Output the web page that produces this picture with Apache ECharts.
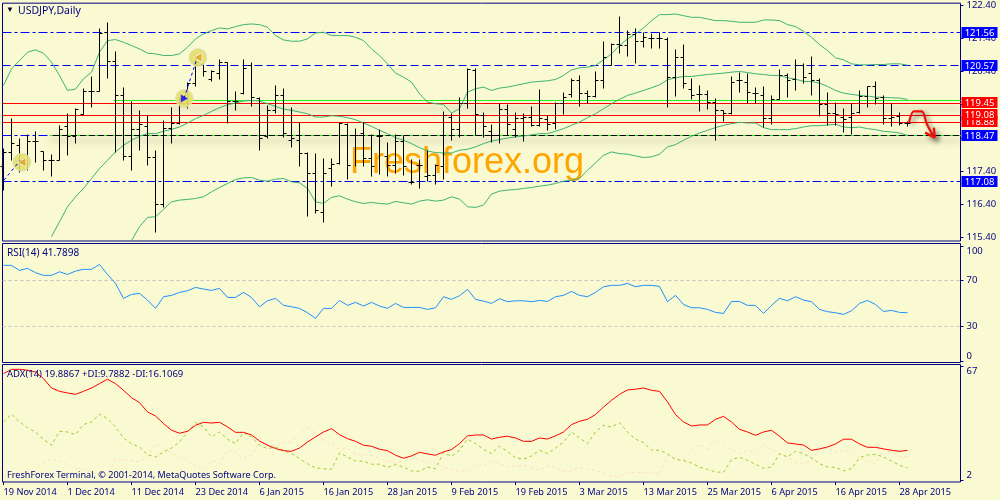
<!DOCTYPE html>
<html>
<head>
<meta charset="utf-8">
<style>html,body{margin:0;padding:0;background:#fafad2}#c{width:1000px;height:500px}</style>
<script src="https://cdn.jsdelivr.net/npm/echarts@6/dist/echarts.min.js"></script>
</head>
<body>
<div id="c"></div>
<script>
const opens=[117.53,117.97,118.17,117.63,118.28,117.98,117.73,117.71,118.73,118.43,119.11,119.81,119.81,121.58,120.70,119.68,117.83,118.66,118.73,117.81,116.41,118.68,118.85,119.58,120.03,120.61,120.15,120.35,120.67,119.50,119.73,120.58,119.58,118.45,119.23,119.68,118.31,118.31,117.93,117.33,116.15,117.48,117.63,118.81,118.48,118.53,117.78,118.45,117.83,117.56,118.28,117.05,117.58,117.23,117.28,117.53,119.03,118.65,119.43,120.43,119.08,118.58,118.48,119.25,118.65,118.98,119.03,118.78,118.95,118.83,119.43,119.71,120.13,119.75,119.66,120.13,120.58,121.20,121.18,121.50,121.30,121.40,121.38,121.35,120.23,120.81,119.85,119.70,119.71,119.48,119.23,119.13,120.13,120.08,119.73,119.68,118.98,119.55,120.28,120.15,120.58,120.33,120.13,119.41,119.13,119.03,119.01,119.18,119.66,119.95,119.61,118.98,119.05,118.85];
const highs=[118.08,119.00,118.38,118.50,118.60,118.00,117.90,118.77,119.13,119.28,119.88,120.24,121.68,121.86,121.00,119.91,119.51,119.23,119.08,118.03,118.93,119.31,119.63,120.08,120.83,120.68,120.43,120.75,120.68,119.80,120.75,120.67,119.63,119.38,119.98,119.89,119.31,118.87,117.96,117.93,117.78,117.78,118.86,118.83,118.68,118.86,118.51,118.65,118.26,118.51,118.48,117.75,117.75,118.01,117.61,119.21,119.13,119.61,120.48,120.48,119.18,118.80,119.43,119.40,119.18,119.13,119.35,119.85,119.08,119.48,119.78,120.18,120.28,119.83,120.41,121.30,121.23,122.05,121.63,121.68,121.56,121.53,121.56,121.41,121.05,121.21,120.20,119.98,119.83,119.58,119.23,120.25,120.36,120.35,119.91,119.95,119.68,120.45,120.35,120.75,120.65,120.85,120.18,119.77,119.46,119.30,119.43,119.83,119.96,120.10,119.67,119.43,119.18,118.91];
const lows=[116.81,117.73,117.36,117.41,117.67,117.43,117.23,117.71,117.86,118.22,119.11,119.33,119.81,120.19,117.95,117.71,117.43,118.03,117.56,115.56,116.30,118.23,118.81,119.28,119.95,120.25,120.11,120.17,118.85,119.23,119.71,119.36,118.03,118.37,119.15,118.41,118.11,117.53,116.05,116.13,115.85,116.93,117.61,117.16,117.53,117.53,117.25,117.31,117.23,117.33,117.28,117.01,116.87,117.08,117.01,117.16,118.31,118.41,119.28,118.48,118.41,118.26,118.23,118.48,118.41,118.28,118.73,118.75,118.61,118.65,119.10,119.63,119.35,119.45,119.61,119.90,120.58,120.93,120.85,120.65,121.13,121.08,121.10,119.31,119.65,119.90,119.57,119.21,119.25,118.31,118.91,119.11,119.78,119.43,119.45,118.71,118.81,119.55,119.63,119.83,120.05,119.68,119.06,118.78,118.78,118.55,118.51,119.15,119.33,119.41,118.81,118.75,118.78,118.73];
const closes=[117.97,118.23,117.66,118.28,118.28,117.73,117.73,118.65,118.43,119.25,119.81,119.81,121.53,120.70,119.68,117.83,118.66,118.80,117.81,116.41,118.68,118.85,119.58,120.03,120.68,120.41,120.39,120.67,119.50,119.50,120.50,119.63,118.38,119.23,119.68,118.53,118.38,117.93,117.33,116.21,117.33,117.61,118.83,117.56,118.48,117.78,117.53,118.45,117.56,118.28,117.53,117.05,117.58,117.28,117.56,119.08,118.65,119.43,120.45,119.10,118.75,118.48,119.25,118.81,118.98,119.03,118.78,118.98,118.81,119.43,119.61,120.13,119.75,119.66,120.13,120.83,121.20,121.18,121.50,121.30,121.43,121.40,121.38,120.23,120.81,120.03,119.68,119.70,119.48,119.23,119.13,120.08,120.13,119.76,119.73,118.98,119.55,120.28,120.13,120.58,120.23,120.13,119.41,119.13,119.11,118.95,119.15,119.66,119.95,119.58,118.98,119.03,118.85,118.85];

const bbUpper=[119.98,120.48,120.73,120.98,121.05,120.95,120.68,120.28,119.83,119.87,120.18,120.38,120.98,121.33,121.36,121.28,121.18,121.08,120.95,120.93,120.88,120.88,120.93,121.13,121.38,121.53,121.63,121.71,121.68,121.75,121.81,121.83,121.81,121.73,121.48,121.35,121.31,121.31,121.38,121.56,121.58,121.48,121.48,121.48,121.43,121.33,121.08,120.88,120.63,120.35,120.23,120.08,119.73,119.48,119.43,119.41,119.15,119.28,119.78,119.88,119.93,119.83,119.90,119.93,119.98,120.03,120.08,120.10,120.12,120.16,120.28,120.45,120.51,120.53,120.58,120.75,120.93,121.18,121.38,121.53,121.71,121.93,122.11,122.11,122.13,122.08,122.03,122.03,121.98,121.93,121.93,121.91,121.88,121.88,121.88,121.95,121.95,121.93,121.81,121.75,121.61,121.43,121.21,121.03,120.81,120.75,120.63,120.60,120.60,120.61,120.61,120.63,120.63,120.59];
const bbMiddle=[null,null,null,null,null,null,115.43,115.88,116.33,116.63,116.88,117.18,117.48,117.73,117.98,118.18,118.33,118.45,118.53,118.53,118.60,118.66,118.73,118.85,118.98,119.08,119.20,119.31,119.40,119.45,119.51,119.53,119.51,119.43,119.35,119.27,119.23,119.18,119.13,119.03,119.03,119.07,119.05,119.01,118.95,118.85,118.75,118.63,118.53,118.41,118.33,118.23,118.11,118.01,117.96,117.95,117.95,118.03,118.06,118.13,118.23,118.31,118.35,118.40,118.43,118.46,118.49,118.53,118.53,118.60,118.68,118.78,118.88,119.01,119.13,119.28,119.43,119.56,119.68,119.75,119.83,119.91,120.00,120.15,120.21,120.25,120.25,120.28,120.31,120.33,120.35,120.38,120.40,120.37,120.33,120.31,120.28,120.28,120.21,120.17,120.10,120.10,120.05,119.95,119.83,119.75,119.71,119.68,119.66,119.63,119.62,119.61,119.60,119.56];
const bbLower=[null,null,null,null,null,null,null,null,null,null,null,null,null,null,null,null,115.31,115.73,116.01,116.03,116.25,116.48,116.53,116.55,116.58,116.63,116.78,116.91,117.03,117.15,117.20,117.21,117.13,117.10,117.16,117.18,117.08,117.05,116.88,116.48,116.43,116.61,116.66,116.56,116.48,116.43,116.46,116.43,116.41,116.49,116.45,116.41,116.50,116.54,116.50,116.53,116.63,116.56,116.33,116.31,116.38,116.71,116.80,116.83,116.85,116.88,116.91,116.95,116.98,117.03,117.10,117.13,117.18,117.43,117.65,117.88,117.98,117.93,117.91,117.86,117.81,117.83,117.91,118.13,118.20,118.33,118.45,118.55,118.63,118.71,118.78,118.83,118.87,118.85,118.85,118.71,118.65,118.65,118.65,118.68,118.73,118.77,118.77,118.79,118.81,118.73,118.71,118.73,118.68,118.65,118.60,118.58,118.55,118.48];

const rsiValues=[83.0,83.0,78.6,80.4,76.6,74.3,74.3,77.4,75.1,78.0,79.5,79.5,83.8,75.1,67.3,54.3,57.7,58.6,52.8,45.6,55.7,56.9,59.5,60.9,63.8,62.4,61.2,63.0,55.1,55.1,59.5,55.1,47.0,52.2,54.3,48.2,47.0,45.6,41.8,36.9,45.6,45.6,52.5,48.2,50.8,47.6,50.8,47.6,45.6,49.9,46.4,46.4,46.4,44.7,46.1,55.7,53.4,56.6,62.1,53.4,51.9,49.9,54.0,51.4,52.2,52.2,51.4,52.5,51.6,55.7,56.9,60.3,56.9,55.7,59.5,64.4,65.6,65.6,67.3,64.4,65.6,65.6,64.7,51.4,56.9,49.0,46.1,46.1,44.7,42.1,41.2,51.6,51.6,48.2,48.2,41.2,48.2,54.3,52.2,55.7,52.8,51.4,44.7,42.7,41.8,40.3,43.5,49.9,52.5,49.0,42.9,43.8,42.1,41.8];

const adxValues=[62.7,65.1,65.1,64.6,63.6,59.8,54.5,52.6,51.7,50.9,52.6,54.5,57.0,59.5,57.0,53.2,49.0,46.2,40.9,38.6,34.3,30.5,28.8,29.9,33.3,35.0,34.6,35.0,32.4,29.3,29.3,27.8,24.4,22.0,20.1,18.9,18.5,20.4,23.8,26.7,29.5,31.4,28.0,25.7,24.2,22.0,21.4,19.7,18.9,16.3,14.6,15.9,18.0,17.0,16.3,18.2,19.5,22.9,27.3,27.8,27.8,25.5,26.5,27.1,26.1,24.2,24.2,26.1,25.5,27.3,29.5,33.7,35.6,36.7,39.4,43.7,47.5,50.9,53.4,53.8,54.5,53.2,52.6,46.6,39.4,35.2,32.9,33.5,33.5,36.7,38.4,35.2,31.0,29.5,27.6,29.5,30.5,27.1,23.3,22.7,22.1,19.1,19.9,21.0,22.7,25.4,25.4,22.7,20.8,20.8,19.9,19.1,18.5,19.1];
const plusDI=[35.2,39.6,35.2,32.0,29.5,25.4,22.0,29.9,29.5,28.0,33.7,35.2,39.6,37.1,32.4,26.1,22.9,21.0,16.6,15.3,18.2,20.4,23.8,29.5,34.8,32.4,26.7,29.5,25.4,22.9,29.1,26.7,22.0,20.1,21.0,19.1,17.2,14.4,11.5,9.1,8.7,8.3,17.6,15.3,13.0,12.9,11.2,11.2,9.4,11.0,9.6,7.4,7.2,9.6,8.7,17.8,15.7,19.1,25.4,22.9,19.7,17.2,21.4,18.5,14.8,14.0,15.9,19.1,17.2,20.4,23.8,29.5,26.1,22.9,29.5,33.3,32.4,34.8,29.5,25.4,23.5,19.3,19.1,17.2,13.8,13.4,11.9,9.6,8.3,6.8,6.6,13.8,15.1,13.4,11.2,8.9,9.6,17.2,15.3,18.5,17.2,14.8,11.5,9.6,9.4,7.4,8.7,14.9,16.5,16.8,15.3,13.0,10.6,9.1];
const minusDI=[4.9,5.3,5.9,5.9,7.7,11.5,14.0,13.0,11.0,9.1,8.1,6.8,4.9,4.9,14.0,13.4,13.2,12.5,15.3,22.9,20.6,17.8,14.9,13.4,10.2,8.3,13.4,11.5,19.1,17.8,14.4,16.3,23.8,21.6,22.0,23.5,23.8,28.6,32.0,28.6,24.8,22.9,19.7,20.1,17.2,16.3,16.3,14.4,13.0,11.5,13.4,14.0,14.0,11.9,11.9,9.6,8.3,7.2,7.7,10.6,10.6,12.9,11.5,9.6,10.2,10.6,9.1,7.7,10.2,9.6,7.2,7.2,9.6,8.3,7.7,6.4,4.3,4.3,6.8,6.4,6.4,6.8,5.3,16.3,14.4,13.4,19.1,22.3,19.7,25.4,22.3,19.7,17.2,19.1,17.2,22.3,19.7,17.2,15.3,12.5,11.2,13.4,19.7,20.4,17.8,19.5,17.8,15.3,13.0,11.2,19.5,18.2,15.3,15.7];

const blueLevels=[121.56,120.57,118.47,117.08];
const redLevels=[119.45,118.88,119.08];
const greenLevel=119.53, greenFromBar=13.8;
const blackLevel=118.47, blackFromBar=5.8;
const rsiLevels=[70,30];
const priceTicks=[115.4,116.4,117.4,118.4,119.4,120.4,121.4,122.4];
const rsiTicks=[0,30,70,100];
const adxTicks=[2,67];
const dateTickBars=[0,8,16,24,32,40,48,56,64,72,80,88,96,104,112];
const dateTickLabels=['19 Nov 2014','1 Dec 2014','11 Dec 2014','23 Dec 2014','6 Jan 2015','16 Jan 2015','28 Jan 2015','9 Feb 2015','19 Feb 2015','3 Mar 2015','13 Mar 2015','25 Mar 2015','6 Apr 2015','16 Apr 2015','28 Apr 2015'];
const tradeCircles=[[2.3,117.67],[24.3,120.82],[22.6,119.59]];
const tradeLineA=[[0.06,117.13],[2.1,117.73]];
const tradeLineB=[[22.56,119.59],[24.1,120.73]];
const arrowShaft=[[113.2,118.88],[113.8,119.2],[114.8,119.2],[115.4,118.83],[116.3,118.43]];
const arrowHead=[[115.2,118.56],[116.4,118.41],[116.3,118.71]];

const NAVY='#000080', BG='#fafad2', FONT='"Noto Sans",sans-serif';
const crisp=v=>Math.round(v-0.5)+0.5;
const barIdx=opens.map((_,i)=>[i,opens[i],highs[i],lows[i],closes[i]]);
const withIdx=a=>a.map((v,i)=>[i,v]);

function renderBar(params,api){
  const x=crisp(api.coord([api.value(0),0])[0]);
  const yO=crisp(api.coord([0,api.value(1)])[1]), yH=crisp(api.coord([0,api.value(2)])[1]),
        yL=crisp(api.coord([0,api.value(3)])[1]), yC=crisp(api.coord([0,api.value(4)])[1]);
  const st=()=>({stroke:'#000',lineWidth:1});
  return {type:'group',children:[
    {type:'line',shape:{x1:x,y1:yH,x2:x,y2:yL},style:st()},
    {type:'line',shape:{x1:x-3,y1:yO,x2:x,y2:yO},style:st()},
    {type:'line',shape:{x1:x,y1:yC,x2:x+3,y2:yC},style:st()}
  ]};
}
const levelStyles={
  blueA:{stroke:'#0000ff',lineWidth:1,lineDash:[9,3,3,3]},
  blueB:{stroke:'#0000ff',lineWidth:1,lineDash:[8,4]},
  red:{stroke:'#ff0000',lineWidth:1},
  green:{stroke:'#22ee22',lineWidth:1},
  shadow:{stroke:BG,lineWidth:1,shadowColor:'rgba(0,0,0,0.5)',shadowBlur:7,shadowOffsetY:5},
  black:{stroke:'#000',lineWidth:1},
  greenDash:{stroke:'#22ee22',lineWidth:1,lineDash:[3,6]},
  grey:{stroke:'#c0c0c0',lineWidth:1,lineDash:[3,3]}
};
const levelKinds=Object.keys(levelStyles);
function levelSeries(items,xi,yi,z){
  return {type:'custom',xAxisIndex:xi,yAxisIndex:yi,z:z||1,silent:true,clip:false,
    data:items.map(it=>[it[0],it[1],levelKinds.indexOf(it[2])]),
    encode:{x:0,y:1},
    renderItem(params,api){
      const cs=params.coordSys;
      const c=api.coord([api.value(0),api.value(1)]);
      const y=crisp(c[1]);
      return {type:'line',shape:{x1:c[0],y1:y,x2:cs.x+cs.width,y2:y},style:Object.assign({},levelStyles[levelKinds[api.value(2)]])};
    }};
}
function tagSeries(values,color){
  return {type:'custom',xAxisIndex:0,yAxisIndex:0,z:6,silent:true,clip:false,
    data:values.map(v=>[0,v]),encode:{x:0,y:1},
    renderItem(params,api){
      const cs=params.coordSys, v=api.value(1);
      const y=Math.round(api.coord([0,v])[1]);
      const x=cs.x+cs.width+1;
      return {type:'group',children:[
        {type:'rect',shape:{x:x,y:y-6,width:36,height:11},style:{fill:color}},
        {type:'text',style:{text:v.toFixed(2),x:x+18,y:y,fill:'#fff',font:'9.5px '+FONT,align:'center',verticalAlign:'middle'}}
      ]};
    }};
}
const lineS=(name,data,color,w,xi,yi,extra)=>Object.assign({name,type:'line',xAxisIndex:xi,yAxisIndex:yi,data,symbol:'none',silent:true,connectNulls:false,
  lineStyle:{color,width:w}},extra||{});
function xAx(i,labels){
  return {type:'value',gridIndex:i,min:-0.125,max:119.625,axisLine:{show:false,onZero:false},splitLine:{show:false},
    axisTick:labels?{show:true,length:3,lineStyle:{color:NAVY},customValues:dateTickBars}:{show:false},
    axisLabel:labels?{show:true,color:NAVY,fontSize:9.2,fontFamily:FONT,align:'left',margin:6,customValues:dateTickBars,
      showMinLabel:true,showMaxLabel:true,hideOverlap:false,
      formatter:v=>dateTickLabels[dateTickBars.indexOf(v)]||''}:{show:false}};
}
function yAx(i,min,max,ticks,fmt,edge){
  return {type:'value',gridIndex:i,position:'right',min,max,splitLine:{show:false},axisLine:{show:false,onZero:false},
    axisTick:{show:true,length:3,lineStyle:{color:NAVY},customValues:ticks},
    axisLabel:Object.assign({show:true,color:NAVY,fontSize:9.5,fontFamily:FONT,margin:6,customValues:ticks,
      showMinLabel:true,showMaxLabel:true,formatter:fmt},edge?{verticalAlignMinLabel:'bottom',verticalAlignMaxLabel:'top'}:{})};
}
const gridBase={show:true,left:2.5,width:958,borderColor:NAVY,borderWidth:1,backgroundColor:BG};

const chart=echarts.init(document.getElementById('c'),null,{renderer:'canvas'});
chart.setOption({
  animation:false,backgroundColor:BG,
  grid:[
    Object.assign({top:2.5,height:238.5},gridBase),
    Object.assign({top:243.5,height:119},gridBase),
    Object.assign({top:364.5,height:117.5},gridBase)
  ],
  xAxis:[xAx(0,false),xAx(1,false),xAx(2,true)],
  yAxis:[
    yAx(0,115.30,122.455,priceTicks,v=>v.toFixed(2),false),
    yAx(1,-1.48,102,rsiTicks,v=>String(v),true),
    yAx(2,1.09,67.85,adxTicks,v=>String(v),true)
  ],
  graphic:[
    {type:'text',left:6,top:6,z:10,silent:true,style:{text:'▼',fill:'#000040',font:'8px '+FONT}},
    {type:'text',left:18,top:6,z:10,silent:true,style:{text:'USDJPY,Daily',fill:NAVY,font:'10.5px '+FONT}},
    {type:'text',left:7,top:248.5,z:10,silent:true,style:{text:'RSI(14) 41.7898',fill:NAVY,font:'10px '+FONT}},
    {type:'text',left:7,top:369.5,z:10,silent:true,style:{text:'ADX(14) 19.8867 +DI:9.7882 -DI:16.1069',fill:NAVY,font:'9.5px '+FONT}},
    {type:'text',left:7,top:470.5,z:10,silent:true,style:{text:'FreshForex Terminal, © 2001-2014, MetaQuotes Software Corp.',fill:NAVY,font:'9.1px '+FONT}},
    {type:'text',left:350,top:145,z:1,silent:true,style:{text:'Freshforex.org',fill:'#ffa500',font:'36px "Liberation Sans",sans-serif'}}
  ],
  series:[
    levelSeries(blueLevels.map((v,i)=>[-0.125,v,i===1?'blueB':'blueA']),0,0,2),
    levelSeries([[greenFromBar,redLevels[0],'shadow'],[blackFromBar,blackLevel,'shadow']],0,0,2),
    lineS('bbU',withIdx(bbUpper),'#3cb371',1,0,0,{z:3}),
    lineS('bbM',withIdx(bbMiddle),'#3cb371',1,0,0,{z:3}),
    lineS('bbL',withIdx(bbLower),'#3cb371',1,0,0,{z:3}),
    levelSeries([[greenFromBar,greenLevel,'green'],[-0.125,redLevels[0],'red'],[-0.125,redLevels[1],'red'],[-0.125,redLevels[2],'red'],[blackFromBar,blackLevel,'black'],[blackFromBar,blackLevel,'greenDash']],0,0,3),
    {type:'custom',xAxisIndex:0,yAxisIndex:0,z:4,silent:true,clip:false,data:barIdx,encode:{x:0,y:[1,2,3,4]},renderItem:renderBar},
    {type:'scatter',xAxisIndex:0,yAxisIndex:0,z:4,silent:true,data:tradeCircles,symbol:'circle',symbolSize:18,
      itemStyle:{color:'#e2de6c',borderColor:'rgba(225,225,205,0.9)',borderWidth:1,opacity:0.9}},
    lineS('tradeA',tradeLineA,'#0000ff',1,0,0,{z:5,lineStyle:{color:'#0000ff',width:1,type:[3,3]}}),
    lineS('tradeB',tradeLineB,'#0000ff',1,0,0,{z:5,lineStyle:{color:'#0000ff',width:1,type:[3,3]}}),
    {type:'scatter',xAxisIndex:0,yAxisIndex:0,z:5,silent:true,data:[tradeCircles[0],tradeCircles[1]],symbol:'triangle',symbolRotate:90,symbolSize:[9,8],
      itemStyle:{color:'#dca020',borderColor:'#fff',borderWidth:0.8}},
    {type:'scatter',xAxisIndex:0,yAxisIndex:0,z:5,silent:true,data:[tradeCircles[2]],symbol:'triangle',symbolRotate:-90,symbolSize:[8,7],
      itemStyle:{color:'#0000ff'}},
    lineS('arrowShaft',arrowShaft,'#f01010',2.2,0,0,{z:6,smooth:0.3,lineStyle:{color:'#f01010',width:2.2,shadowColor:'rgba(0,0,0,0.55)',shadowBlur:5,shadowOffsetX:3,shadowOffsetY:3}}),
    lineS('arrowHead',arrowHead,'#f01010',2.4,0,0,{z:6,lineStyle:{color:'#f01010',width:2.4,shadowColor:'rgba(0,0,0,0.55)',shadowBlur:5,shadowOffsetX:3,shadowOffsetY:3}}),
    tagSeries(blueLevels,'#0000ff'),
    tagSeries(redLevels,'#ff0000'),

    levelSeries(rsiLevels.map(v=>[-0.125,v,'grey']),1,1,2),
    lineS('RSI',withIdx(rsiValues),'#1e90ff',1,1,1,{z:3}),

    lineS('-DI',withIdx(minusDI),'#ffe4c4',1,2,2,{z:2,lineStyle:{color:'#ffdfc0',width:1,type:[3,3]}}),
    lineS('+DI',withIdx(plusDI),'#9acd32',1,2,2,{z:2,lineStyle:{color:'#9acd32',width:1,type:[3,3]}}),
    lineS('ADX',withIdx(adxValues),'#ff0000',1,2,2,{z:3})
  ]
});
</script>
</body>
</html>
